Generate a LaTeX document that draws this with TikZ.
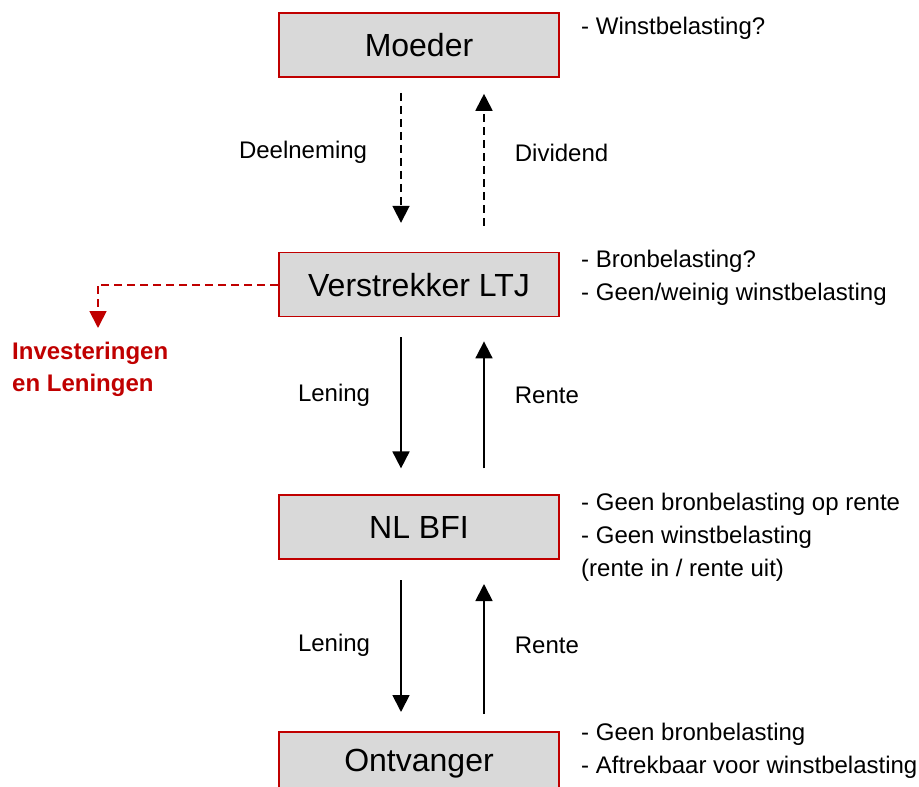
\documentclass[tikz,border=0pt]{standalone}
\usepackage{fontspec}
\setmainfont{Liberation Sans}
\usetikzlibrary{positioning,arrows.meta}
\definecolor{boxred}{RGB}{192,0,0}
\definecolor{boxgray}{RGB}{217,217,217}

\begin{document}
\begin{tikzpicture}[
    x=1pt, y=-1pt,
    entity/.style={rectangle, draw=boxred, fill=boxgray, line width=1.6pt, minimum width=280pt, minimum height=64pt, inner sep=0pt, font=\fontsize{32}{38}\selectfont},
    note/.style={anchor=west, align=left, inner sep=0pt, font=\fontsize{24}{33}\selectfont},
    lbl/.style={inner sep=0pt, font=\fontsize{24}{29}\selectfont},
    redlbl/.style={anchor=west, align=left, inner sep=0pt, text=boxred, font=\bfseries\fontsize{24}{32}\selectfont},
    flow/.style={-{Triangle[length=17pt,width=17pt]}, line width=1.8pt, shorten <=20pt, shorten >=24pt},
    redflow/.style={-{Triangle[length=17pt,width=17pt]}, draw=boxred, line width=1.8pt, dash pattern=on 8pt off 5pt}
    ]
        \useasboundingbox (0,0) rectangle (919,787);
        \clip (0,0) rectangle (919,787);

        %Nodes
        \node[entity] (moeder) at (419,45) {Moeder};
        \node[entity] (ltj) [below=174pt of moeder] {Verstrekker LTJ};
        \node[entity] (bfi) [below=177pt of ltj] {NL BFI};
        \node[entity] (ontvanger) [below=171pt of bfi] {Ontvanger};

        %Notes
        \node[note] (nmoeder) at (581,28) {- Winstbelasting?};
        \node[note] (nltj) at (581,278) {- Bronbelasting?\\- Geen/weinig winstbelasting};
        \node[note] (nbfi) at (581,537) {- Geen bronbelasting op rente\\- Geen winstbelasting\\(rente in / rente uit)};
        \node[note] (nontvanger) at (581,751) {- Geen bronbelasting\\- Aftrekbaar voor winstbelasting};
        \node[redlbl] (invest) at (12,369) {Investeringen\\en Leningen};
        \coordinate (drop) at (98,328);

        %Lines
        \draw[flow, dash pattern=on 8pt off 5pt, shorten <=15pt, shorten >=29pt]
            ([xshift=-18pt]moeder.south) -- node[lbl, pos=0.43, left=33pt] {Deelneming} ([xshift=-18pt]ltj.north);
        \draw[flow, dash pattern=on 8pt off 5pt, shorten <=26pt, shorten >=16pt]
            ([xshift=65pt]ltj.north) -- node[lbl, pos=0.57, right=30pt] {Dividend} ([xshift=65pt]moeder.south);
        \draw[flow, shorten >=26pt]
            ([xshift=-18pt]ltj.south) -- node[lbl, pos=0.44, left=30pt] {Lening} ([xshift=-18pt]bfi.north);
        \draw[flow, shorten <=26pt]
            ([xshift=65pt]bfi.north) -- node[lbl, pos=0.56, right=30pt] {Rente} ([xshift=65pt]ltj.south);
        \draw[flow, shorten >=19pt]
            ([xshift=-18pt]bfi.south) -- node[lbl, left=30pt] {Lening} ([xshift=-18pt]ontvanger.north);
        \draw[flow, shorten <=17pt]
            ([xshift=65pt]ontvanger.north) -- node[lbl, right=30pt] {Rente} ([xshift=65pt]bfi.south);
        \draw[redflow]
            (ltj.west) -| (drop);
\end{tikzpicture}
\end{document}
